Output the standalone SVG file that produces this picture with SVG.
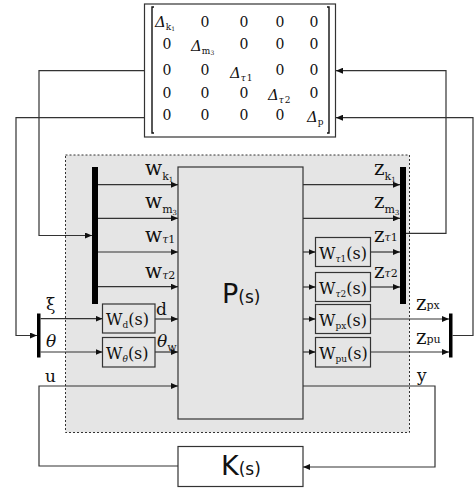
<svg xmlns="http://www.w3.org/2000/svg" width="474" height="489" viewBox="0 0 474 489">
<style>
.ln{fill:none;stroke:#333;stroke-width:1.2}
.bx{fill:#e5e5e5;stroke:#333;stroke-width:1.2}
.wb{fill:#fff;stroke:#333;stroke-width:1.2}
.bar{fill:#000}
.m{font-family:"DejaVu Serif",serif;font-size:15px;fill:#111}
.mz{font-family:"DejaVu Serif",serif;font-size:14px;fill:#111;text-anchor:middle}
.dl{font-style:italic}
.ms{font-size:9px}
.ms2{font-size:6px}
.lb{font-family:"DejaVu Serif",serif;font-size:17px;fill:#111}
.lw{font-size:20px}
.sb{font-size:11px}
.ss{font-size:7px}
.bt{font-family:"DejaVu Serif",serif;font-size:16px;fill:#111}
.bs{font-size:9px}
.big{font-family:"DejaVu Sans",sans-serif;font-size:27px;fill:#111}
.par{font-size:17px}
</style>
<defs>
<marker id="ar" markerWidth="7" markerHeight="6" refX="7" refY="3" orient="auto" markerUnits="userSpaceOnUse">
<path d="M0,0 L7,3 L0,6 z" fill="#111"/>
</marker>
</defs>

<g id="plant-frame">
<rect x="65.5" y="155" width="344" height="277.5" fill="#e5e5e5" stroke="#333" stroke-width="1" stroke-dasharray="2,2"/>
</g>

<g id="delta">
<rect class="wb" x="144.5" y="4" width="191" height="133"/>
<path d="M154,7 H152 V133 H154 M327,7 H329 V133 H327" fill="none" stroke="#111" stroke-width="1.4"/>
<text class="m dl" x="155" y="26.5">Δ<tspan class="ms" font-style="normal" dy="3">k</tspan><tspan class="ms2" font-style="normal" dy="1">1</tspan></text>
<text class="mz" x="205" y="26.5">0</text><text class="mz" x="244" y="26.5">0</text><text class="mz" x="280" y="26.5">0</text><text class="mz" x="314" y="26.5">0</text>
<text class="mz" x="167" y="49">0</text>
<text class="m dl" x="191" y="51">Δ<tspan class="ms" font-style="normal" dy="3">m</tspan><tspan class="ms2" font-style="normal" dy="1">3</tspan></text>
<text class="mz" x="244" y="49">0</text><text class="mz" x="280" y="49">0</text><text class="mz" x="314" y="49">0</text>
<text class="mz" x="167" y="75">0</text><text class="mz" x="205" y="75">0</text>
<text class="m dl" x="230" y="77.5">Δ<tspan class="ms" dy="3">τ</tspan><tspan class="ms" font-style="normal" dx="1">1</tspan></text>
<text class="mz" x="280" y="75">0</text><text class="mz" x="314" y="75">0</text>
<text class="mz" x="167" y="98">0</text><text class="mz" x="205" y="98">0</text><text class="mz" x="244" y="98">0</text>
<text class="m dl" x="268" y="100">Δ<tspan class="ms" dy="3">τ</tspan><tspan class="ms" font-style="normal" dx="1">2</tspan></text>
<text class="mz" x="314" y="98">0</text>
<text class="mz" x="167" y="120">0</text><text class="mz" x="205" y="120">0</text><text class="mz" x="244" y="120">0</text><text class="mz" x="280" y="120">0</text>
<text class="m dl" x="307" y="122">Δ<tspan class="ms" font-style="normal" dy="3">p</tspan></text>
</g>

<g id="P">
<rect class="bx" x="178" y="167" width="125" height="252"/>
<text class="big" x="222" y="303">P<tspan class="par">(s)</tspan></text>
</g>

<g id="K">
<rect class="wb" x="178" y="446.5" width="125" height="40"/>
<text class="big" x="221" y="475">K<tspan class="par">(s)</tspan></text>
</g>

<g id="bar-w"><rect class="bar" x="92" y="167" width="6" height="137"/></g>
<g id="bar-z"><rect class="bar" x="400" y="167" width="6" height="137"/></g>
<g id="bar-in"><rect class="bar" x="37" y="313.5" width="3.5" height="44"/></g>
<g id="bar-out"><rect class="bar" x="449" y="313.5" width="3.5" height="44"/></g>

<g id="Wd"><rect class="bx" x="102.5" y="304" width="52.5" height="29"/>
<text class="bt" x="106" y="325">W<tspan class="bs" dy="3">d</tspan><tspan dy="-3">(s)</tspan></text></g>
<g id="Wtheta"><rect class="bx" x="102.5" y="337.5" width="52.5" height="29.5"/>
<text class="bt" x="106" y="358.5">W<tspan class="bs" dy="3" font-style="italic">θ</tspan><tspan dy="-3">(s)</tspan></text></g>
<g id="Wt1"><rect class="bx" x="315.5" y="237.5" width="55" height="29"/>
<text class="bt" x="319" y="258.5">W<tspan class="bs" dy="3" font-style="italic">τ</tspan><tspan class="bs">1</tspan><tspan dy="-3">(s)</tspan></text></g>
<g id="Wt2"><rect class="bx" x="315.5" y="272.5" width="55" height="29"/>
<text class="bt" x="319" y="293.5">W<tspan class="bs" dy="3" font-style="italic">τ</tspan><tspan class="bs">2</tspan><tspan dy="-3">(s)</tspan></text></g>
<g id="Wpx"><rect class="bx" x="315.5" y="304.5" width="55" height="29"/>
<text class="bt" x="319" y="325.5">W<tspan class="bs" dy="3">px</tspan><tspan dy="-3">(s)</tspan></text></g>
<g id="Wpu"><rect class="bx" x="315.5" y="337.5" width="55" height="29.5"/>
<text class="bt" x="319" y="358.5">W<tspan class="bs" dy="3">pu</tspan><tspan dy="-3">(s)</tspan></text></g>

<g id="connectors">
<path class="ln" d="M144.5,70.7 H39 V235.5 H92" marker-end="url(#ar)"/>
<path class="ln" d="M144.5,117.7 H16 V335.5 H37" marker-end="url(#ar)"/>
<path class="ln" d="M406,233.3 H446 V70.7 H336" marker-end="url(#ar)"/>
<path class="ln" d="M452.5,335.5 H473 V117.7 H336" marker-end="url(#ar)"/>
<path class="ln" d="M98,184.7 H178" marker-end="url(#ar)"/>
<path class="ln" d="M98,218.3 H178" marker-end="url(#ar)"/>
<path class="ln" d="M98,252 H178" marker-end="url(#ar)"/>
<path class="ln" d="M98,286.7 H178" marker-end="url(#ar)"/>
<path class="ln" d="M303,184.7 H400" marker-end="url(#ar)"/>
<path class="ln" d="M303,218.3 H400" marker-end="url(#ar)"/>
<path class="ln" d="M303,252 H315.5" marker-end="url(#ar)"/>
<path class="ln" d="M303,287 H315.5" marker-end="url(#ar)"/>
<path class="ln" d="M303,319 H315.5" marker-end="url(#ar)"/>
<path class="ln" d="M303,352 H315.5" marker-end="url(#ar)"/>
<path class="ln" d="M370.5,252 H400" marker-end="url(#ar)"/>
<path class="ln" d="M370.5,287 H400" marker-end="url(#ar)"/>
<path class="ln" d="M370.5,319 H449" marker-end="url(#ar)"/>
<path class="ln" d="M370.5,352 H449" marker-end="url(#ar)"/>
<path class="ln" d="M40.5,318.7 H102.5" marker-end="url(#ar)"/>
<path class="ln" d="M40.5,352 H102.5" marker-end="url(#ar)"/>
<path class="ln" d="M155,319 H178" marker-end="url(#ar)"/>
<path class="ln" d="M155,352 H178" marker-end="url(#ar)"/>
<path class="ln" d="M178,466 H39 V386 H178" marker-end="url(#ar)"/>
<path class="ln" d="M303,386 H435 V467 H303" marker-end="url(#ar)"/>
</g>

<g id="labels">
<text class="lb lw" x="145" y="175">w<tspan class="sb" dy="5">k</tspan><tspan class="ss" dy="2">1</tspan></text>
<text class="lb lw" x="145" y="207.5">w<tspan class="sb" dy="5">m</tspan><tspan class="ss" dy="2">3</tspan></text>
<text class="lb lw" x="145" y="242">w<tspan class="sb" dy="1" font-style="italic">τ</tspan><tspan class="sb">1</tspan></text>
<text class="lb lw" x="145" y="278">w<tspan class="sb" dy="1" font-style="italic">τ</tspan><tspan class="sb">2</tspan></text>
<text class="lb lw" x="374" y="175">z<tspan class="sb" dy="5">k</tspan><tspan class="ss" dy="2">1</tspan></text>
<text class="lb lw" x="374" y="207.5">z<tspan class="sb" dy="5">m</tspan><tspan class="ss" dy="2">3</tspan></text>
<text class="lb lw" x="374" y="242">z<tspan class="sb" dy="-1" font-style="italic">τ</tspan><tspan class="sb">1</tspan></text>
<text class="lb lw" x="374" y="278">z<tspan class="sb" dy="-1" font-style="italic">τ</tspan><tspan class="sb">2</tspan></text>
<text class="lb lw" x="416" y="310">z<tspan class="sb" dy="-1">px</tspan></text>
<text class="lb lw" x="416" y="344">z<tspan class="sb" dy="-1">pu</tspan></text>
<text class="lb" x="46" y="310">ξ</text>
<text class="lb" x="46" y="347" font-style="italic">θ</text>
<text class="lb" x="156" y="315">d</text>
<text class="lb" x="157" y="347" font-style="italic">θ<tspan class="sb" font-style="normal" dy="4">w</tspan></text>
<text class="lb" x="45" y="382">u</text>
<text class="lb" x="417" y="381">y</text>
</g>
</svg>
